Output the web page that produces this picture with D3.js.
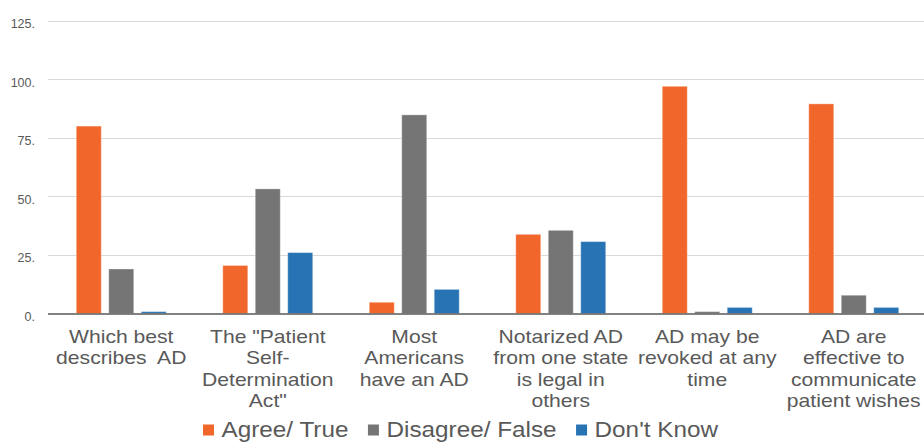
<!DOCTYPE html>
<html>
<head>
<meta charset="utf-8">
<script src="https://cdn.jsdelivr.net/npm/d3@7"></script>
<style>
  html, body { margin: 0; padding: 0; background: #fff; }
  svg { display: block; font-family: "Liberation Sans", Arial, sans-serif; }
  .cat text, .leg text { white-space: pre; }
</style>
</head>
<body>
<svg id="chart" width="924" height="443"></svg>
<script>
// Survey items (each label split into its wrapped lines)
const categories = [
  ["Which best", "describes  AD"],
  ["The \"Patient", "Self-", "Determination", "Act\""],
  ["Most", "Americans", "have an AD"],
  ["Notarized AD", "from one state", "is legal in", "others"],
  ["AD may be", "revoked at any", "time"],
  ["AD are", "effective to", "communicate", "patient wishes"]
];
const seriesNames = ["Agree/ True", "Disagree/ False", "Don't Know"];
const agreeTrue      = [80, 20.5, 4.8, 33.8, 97, 89.5];
const disagreeFalse  = [19, 53.2, 84.8, 35.5, 0.8, 7.8];
const dontKnow       = [0.8, 26, 10.3, 30.7, 2.6, 2.6];
const yTicks = [0, 25, 50, 75, 100, 125];
const yTickLabels = ["0.", "25.", "50.", "75.", "100.", "125."];
const colors = ["#F1662A", "#757575", "#2873B4"];

const seriesValues = [agreeTrue, disagreeFalse, dontKnow];
const catKeys = categories.map((c, i) => "c" + i);

const svg = d3.select("#chart");
const plotLeft = 48, plotRight = 927, plotTop = 20.7, plotBottom = 313.5;

const x0 = d3.scaleBand().domain(catKeys).range([plotLeft, plotRight]).paddingInner(0).paddingOuter(0);
const x1 = d3.scaleBand().domain(seriesNames).range([0, x0.bandwidth()]).paddingInner(0.23).paddingOuter(0.87);
const y = d3.scaleLinear().domain([0, 125]).range([plotBottom, plotTop]);

// Horizontal gridlines
svg.append("g")
  .selectAll("line")
  .data(yTicks.filter(t => t > 0))
  .join("line")
  .attr("x1", plotLeft).attr("x2", 924)
  .attr("y1", d => Math.round(y(d)) + 0.5).attr("y2", d => Math.round(y(d)) + 0.5)
  .attr("stroke", "#D9D9D9").attr("stroke-width", 1);

// Y axis labels
const yAxis = d3.axisLeft(y).tickValues(yTicks).tickSize(0).tickPadding(0)
  .tickFormat((d, i) => yTickLabels[i]);
const gy = svg.append("g").attr("transform", "translate(35,0)").call(yAxis);
gy.select(".domain").remove();
gy.selectAll("text")
  .attr("font-family", "'Liberation Sans', Arial, sans-serif")
  .attr("font-size", 12.5).attr("fill", "#595959").attr("dy", "0.55em");

// Bars
const groups = svg.append("g")
  .selectAll("g")
  .data(catKeys)
  .join("g")
  .attr("transform", d => `translate(${x0(d)},0)`);

groups.selectAll("rect")
  .data((d, ci) => seriesNames.map((s, si) => ({ s, si, v: seriesValues[si][ci] })))
  .join("rect")
  .attr("x", d => x1(d.s))
  .attr("width", x1.bandwidth())
  .attr("y", d => y(d.v))
  .attr("height", d => y(0) - y(d.v))
  .attr("fill", d => colors[d.si])
  .attr("stroke", "#fff").attr("stroke-opacity", 0.35).attr("stroke-width", 1);

// Baseline
svg.append("line")
  .attr("x1", plotLeft).attr("x2", 924)
  .attr("y1", y(0) + 0.5).attr("y2", y(0) + 0.5)
  .attr("stroke", "#595959").attr("stroke-width", 1.5);

// Category labels
const stretch = 1.13;
const cat = svg.append("g").attr("class", "cat");
categories.forEach((lines, i) => {
  const cx = x0(catKeys[i]) + x0.bandwidth() / 2;
  const g = cat.append("g").attr("transform", `translate(${cx},342.5) scale(${stretch},1)`);
  g.selectAll("text")
    .data(lines)
    .join("text")
    .attr("x", 0)
    .attr("y", (d, k) => k * 21.6)
    .attr("text-anchor", "middle")
    .attr("font-size", 18.7)
    .attr("fill", "#595959")
    .text(d => d);
});

// Legend
const leg = svg.append("g").attr("class", "leg").attr("transform", "translate(203,0)");
const legY = 437;
const legSize = 21.5;
const swatchToText = 18.5, itemGap = 19.5;
let cursor = 0;
seriesNames.forEach((name, i) => {
  const g = leg.append("g");
  g.append("rect").attr("x", 0).attr("y", -12.5).attr("width", 11).attr("height", 11).attr("fill", colors[i]);
  const t = g.append("text")
    .attr("transform", `translate(${swatchToText},0) scale(${stretch},1)`)
    .attr("font-size", legSize).attr("fill", "#595959").text(name);
  const w = swatchToText + t.node().getComputedTextLength() * stretch;
  g.attr("transform", `translate(${cursor},${legY})`);
  cursor += w + itemGap;
});
</script>
</body>
</html>
